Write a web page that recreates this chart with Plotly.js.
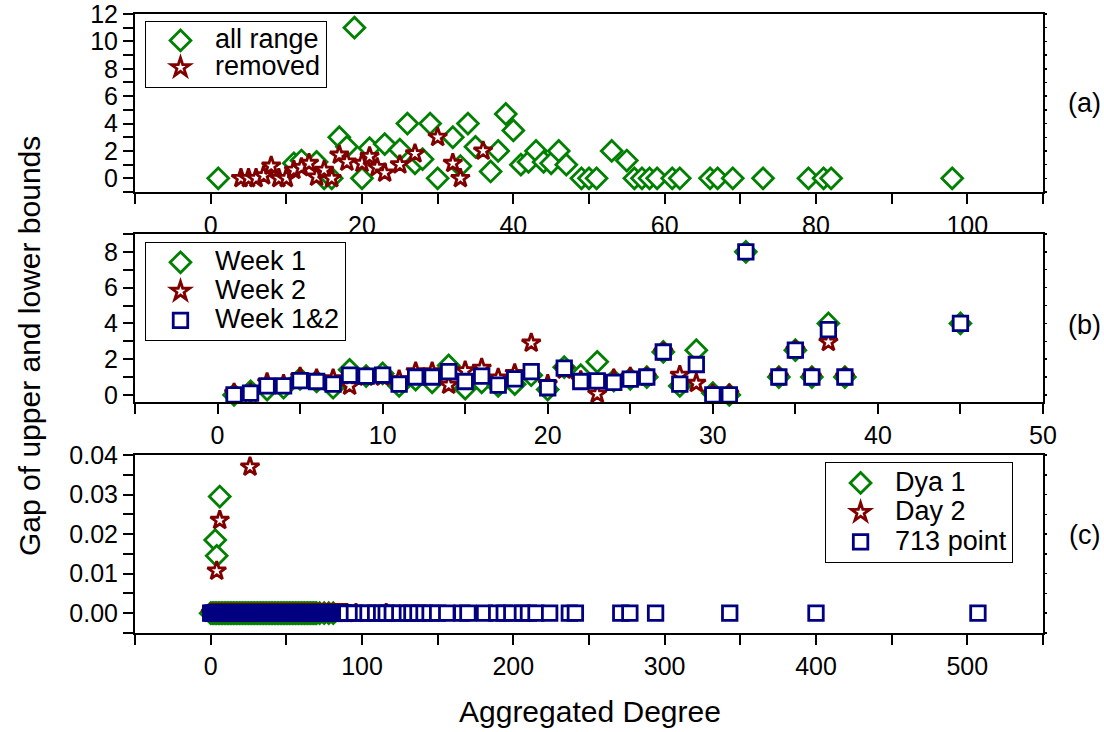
<!DOCTYPE html>
<html>
<head>
<meta charset="utf-8">
<script src="https://cdn.plot.ly/plotly-3.0.1.min.js"></script>
<style>html,body{margin:0;padding:0;background:#fff;}#chart{width:1104px;height:732px;}</style>
</head>
<body>
<div id="chart"></div>
<script>
// ---------- Panel (a) ----------
var aAllX = [1,11,12,14,15,16,17,18,19,20,21,23,25,26,27,28,29,30,32,33,34,35,37,38,39,40,41,42,43,44,45,46,47,49,50,51,53,55,56,57,58,59,61,62,66,67,69,73,79,81,82,98];
var aAllY = [0,1.1,1.3,1.2,0,0,3.0,2.3,11,0,2.2,2.5,2.1,4.0,1.1,1.4,4.0,0,3.0,0.9,4.0,2.3,0.5,2.0,4.7,3.5,1.0,1.2,2.0,1.2,1.1,2.0,1.0,0,0,0,2.0,1.3,0,0,0,0,0,0,0,0,0,0,0,0,0,0];
var aRemX = [4,5,6,7,8,9,10,11,12,13,14,15,16,17,18,20,21,22,23,25,27,30,32,33,36];
var aRemY = [0,0,0,0.2,0.9,0,0,0.6,0.8,1.1,0.1,0.6,0,1.7,1.2,1.1,1.6,0.8,0.4,1.0,1.8,3.0,1.1,0,2.0];

// ---------- Panel (b) ----------
var bW1X = [1,2,3,4,5,6,7,8,9,10,11,12,13,14,15,16,17,18,19,20,21,22,23,24,25,26,27,28,29,30,31,32,34,35,36,37,38,45];
var bW1Y = [0,0.2,0.3,0.4,0.9,0.75,0.4,1.4,1.05,1.2,0.5,0.85,0.7,1.65,0.35,0.7,0.5,0.6,1.1,0.3,1.55,1.1,1.85,0.8,0.9,1.0,2.4,0.5,2.5,0.1,0,8.0,1.0,2.5,1.0,4.0,1.0,4.0];
var bW2X = [1,2,3,4,5,6,7,8,9,10,11,12,13,14,15,16,17,18,19,20,21,22,23,24,25,26,27,28,29,30,31,34,35,36,37,38];
var bW2Y = [0.1,0.1,0.7,0.6,1.0,0.9,0.9,0.5,1.0,1.0,0.85,1.3,1.3,0.55,1.35,1.5,0.95,1.2,2.9,0.6,1.4,0.8,0.05,0.9,1.0,1.0,2.4,1.1,0.65,0.05,0.05,1.0,2.5,1.0,2.95,1.0];
var bW12X = [1,2,3,4,5,6,7,8,9,10,11,12,13,14,15,16,17,18,19,20,21,22,23,24,25,26,27,28,29,30,31,32,34,35,36,37,38,45];
var bW12Y = [0,0.1,0.5,0.5,0.8,0.75,0.6,1.1,1.05,1.1,0.6,1.0,1.0,1.3,0.75,1.05,0.55,0.9,1.3,0.4,1.5,0.75,0.78,0.7,0.88,1.0,2.4,0.6,1.7,0,0,8.0,1.0,2.5,1.0,3.65,1.0,4.0];

// ---------- Panel (c) ----------
var cD1X = [
  0,1,2,3,4,5,6,7,8,9,
  10,11,12,13,14,15,16,17,18,19,
  20,21,22,23,24,25,26,27,28,29,
  30,31,32,33,34,35,36,37,38,39,
  40,41,42,43,44,45,46,47,48,49,
  50,51,52,53,54,55,56,57,58,59,
  60,61,62,63,64,65,66,67,68,69,
  70,72,75,78,81,
  3,4,6];
var cD1Y = [
  0,0,0,0,0,0,0,0,0,0,
  0,0,0,0,0,0,0,0,0,0,
  0,0,0,0,0,0,0,0,0,0,
  0,0,0,0,0,0,0,0,0,0,
  0,0,0,0,0,0,0,0,0,0,
  0,0,0,0,0,0,0,0,0,0,
  0,0,0,0,0,0,0,0,0,0,
  0,0,0,0,0,
  0.0185,0.0145,0.0295];
var cD2X = [
  0,1,2,3,4,5,6,7,8,9,
  10,11,12,13,14,15,16,17,18,19,
  20,21,22,23,24,25,26,27,28,29,
  30,31,32,33,34,35,36,37,38,39,
  40,41,42,43,44,45,46,47,48,49,
  50,51,52,53,54,55,56,57,58,59,
  60,61,62,63,64,65,66,67,68,69,
  70,71,72,73,74,75,76,77,78,79,
  80,81,82,83,84,85,86,87,88,89,
  90,96,116,
  4,6,26];
var cD2Y = [
  0,0,0,0,0,0,0,0,0,0,
  0,0,0,0,0,0,0,0,0,0,
  0,0,0,0,0,0,0,0,0,0,
  0,0,0,0,0,0,0,0,0,0,
  0,0,0,0,0,0,0,0,0,0,
  0,0,0,0,0,0,0,0,0,0,
  0,0,0,0,0,0,0,0,0,0,
  0,0,0,0,0,0,0,0,0,0,
  0,0,0,0,0,0,0,0,0,0,
  0,0,0,
  0.0107,0.0235,0.037];
var cPtX = [
  0,1,2,3,4,5,6,7,8,9,
  10,11,12,13,14,15,16,17,18,19,
  20,21,22,23,24,25,26,27,28,29,
  30,31,32,33,34,35,36,37,38,39,
  40,41,42,43,44,45,46,47,48,49,
  50,51,52,53,54,55,56,57,58,59,
  60,61,62,63,64,65,66,67,68,69,
  70,71,72,73,74,75,76,77,78,79,
  80,81,82,83,84,85,86,87,88,89,
  90,
  95,101,104,109,113,116,120,125,130,133,
  137,141,145,150,156,166,170,181,189,194,
  199,206,210,215,224,237,241,271,277,294,
  343,400,507];
var cPtY = [
  0,0,0,0,0,0,0,0,0,0,
  0,0,0,0,0,0,0,0,0,0,
  0,0,0,0,0,0,0,0,0,0,
  0,0,0,0,0,0,0,0,0,0,
  0,0,0,0,0,0,0,0,0,0,
  0,0,0,0,0,0,0,0,0,0,
  0,0,0,0,0,0,0,0,0,0,
  0,0,0,0,0,0,0,0,0,0,
  0,0,0,0,0,0,0,0,0,0,
  0,
  0,0,0,0,0,0,0,0,0,0,
  0,0,0,0,0,0,0,0,0,0,
  0,0,0,0,0,0,0,0,0,0,
  0,0,0];

var GREEN = '#008000', RED = '#800000', NAVY = '#000080';
var FONT = 'Liberation Sans, Arial, Helvetica, sans-serif';

function lbl(t) { return '<span style="font-size:27px">' + t + '</span>'; }

function dia(x, y, name, xa, ya, lg) {
  return {type:'scatter', mode:'markers', x:x, y:y, name:lbl(name), xaxis:xa, yaxis:ya, legend:lg,
    marker:{symbol:'diamond', size:16, color:'white', line:{color:GREEN, width:2.8}}, cliponaxis:false};
}
function star(x, y, name, xa, ya, lg) {
  return {type:'scatter', mode:'markers', x:x, y:y, name:lbl(name), xaxis:xa, yaxis:ya, legend:lg,
    marker:{symbol:'star', size:14, color:'white', line:{color:RED, width:2.8}}, cliponaxis:false};
}
function sq(x, y, name, xa, ya, lg) {
  return {type:'scatter', mode:'markers', x:x, y:y, name:lbl(name), xaxis:xa, yaxis:ya, legend:lg,
    marker:{symbol:'square', size:14.5, color:'white', line:{color:NAVY, width:2.8}}, cliponaxis:false};
}

var data = [
  dia(aAllX, aAllY, 'all range', 'x', 'y', 'legend'),
  star(aRemX, aRemY, 'removed', 'x', 'y', 'legend'),
  dia(bW1X, bW1Y, 'Week 1', 'x2', 'y2', 'legend2'),
  star(bW2X, bW2Y, 'Week 2', 'x2', 'y2', 'legend2'),
  sq(bW12X, bW12Y, 'Week 1&2', 'x2', 'y2', 'legend2'),
  dia(cD1X, cD1Y, 'Dya 1', 'x3', 'y3', 'legend3'),
  star(cD2X, cD2Y, 'Day 2', 'x3', 'y3', 'legend3'),
  sq(cPtX, cPtY, '713 point', 'x3', 'y3', 'legend3')
];

function ax(extra) {
  var base = {showline:true, linecolor:'black', linewidth:2, mirror:true,
    ticks:'outside', ticklen:10, tickwidth:2, tickcolor:'black',
    showgrid:false, zeroline:false, fixedrange:true, ticklabeloverflow:'allow',
    tickfont:{family:FONT, size:25, color:'black'},
    minor:{ticks:'outside', ticklen:10, tickwidth:2, tickcolor:'black', showgrid:false}};
  for (var k in extra) { if (k === 'minor') { for (var m in extra.minor) base.minor[m] = extra.minor[m]; } else base[k] = extra[k]; }
  return base;
}
function rightAx(over, anchor, range, dtick) {
  return {overlaying:over, side:'right', anchor:anchor, range:range, dtick:dtick, tick0:0,
    ticks:'outside', ticklen:3, tickwidth:1.5, tickcolor:'black', showticklabels:false,
    showline:false, showgrid:false, zeroline:false, fixedrange:true};
}

function leg(x, y, fs) {
  return {x:x, y:y, xanchor:'left', yanchor:'top', bordercolor:'black', borderwidth:1, bgcolor:'white',
    font:{family:FONT, size:fs, color:'black'}, itemwidth:59, tracegroupgap:0};
}

var layout = {
  width:1104, height:732,
  margin:{l:135, r:61, t:14, b:99},
  paper_bgcolor:'white', plot_bgcolor:'white',
  showlegend:true,
  font:{family:FONT, color:'black'},
  xaxis: ax({anchor:'y', range:[-10,110], dtick:20, tick0:0, minor:{dtick:10}}),
  yaxis: ax({anchor:'x', domain:[0.7124,1], range:[-1,12], dtick:2, tick0:0, minor:{dtick:1}}),
  xaxis2: ax({anchor:'y2', range:[-5,50], dtick:10, tick0:0, minor:{dtick:5}}),
  yaxis2: ax({anchor:'x2', domain:[0.3737,0.6446], range:[-0.38,9.0], dtick:2, tick0:0, minor:{dtick:1}}),
  xaxis3: ax({anchor:'y3', range:[-50,550], dtick:100, tick0:0, minor:{dtick:50}}),
  yaxis3: ax({anchor:'x3', domain:[0,0.2876], range:[-0.005,0.04], dtick:0.01, tick0:0, tickformat:'.2f', minor:{dtick:0.005}}),
  yaxis4: rightAx('y', 'x', [-1,12], 1),
  yaxis5: rightAx('y2', 'x2', [-0.38,9.0], 1),
  yaxis6: rightAx('y3', 'x3', [-0.005,0.04], 0.005),
  legend: leg(0.011, 0.989, 18.6),
  legend2: leg(0.011, 0.632, 20),
  legend3: leg(0.76, 0.276, 20.4),
  annotations:[
    {xref:'paper', yref:'paper', x:1.046, y:0.856, xanchor:'center', yanchor:'middle', text:'(a)', showarrow:false, font:{family:FONT, size:27, color:'black'}},
    {xref:'paper', yref:'paper', x:1.046, y:0.4976, xanchor:'center', yanchor:'middle', text:'(b)', showarrow:false, font:{family:FONT, size:27, color:'black'}},
    {xref:'paper', yref:'paper', x:1.046, y:0.158, xanchor:'center', yanchor:'middle', text:'(c)', showarrow:false, font:{family:FONT, size:27, color:'black'}},
    {xref:'paper', yref:'paper', x:-0.1156, y:0.4637, xanchor:'center', yanchor:'middle', text:'Gap of upper and lower bounds', textangle:-90, showarrow:false, font:{family:FONT, size:30, color:'black'}},
    {xref:'paper', yref:'paper', x:0.501, y:-0.1276, xanchor:'center', yanchor:'middle', text:'Aggregated Degree', showarrow:false, font:{family:FONT, size:30, color:'black'}}
  ]
};

// invisible helper traces that switch on the right-side tick axes
data.push({type:'scatter', x:[0], y:[0], xaxis:'x', yaxis:'y4', mode:'markers', marker:{opacity:0}, showlegend:false, hoverinfo:'skip'});
data.push({type:'scatter', x:[0], y:[0], xaxis:'x2', yaxis:'y5', mode:'markers', marker:{opacity:0}, showlegend:false, hoverinfo:'skip'});
data.push({type:'scatter', x:[0], y:[0], xaxis:'x3', yaxis:'y6', mode:'markers', marker:{opacity:0}, showlegend:false, hoverinfo:'skip'});

Plotly.newPlot('chart', data, layout, {displayModeBar:false, staticPlot:true});
</script>
</body>
</html>
